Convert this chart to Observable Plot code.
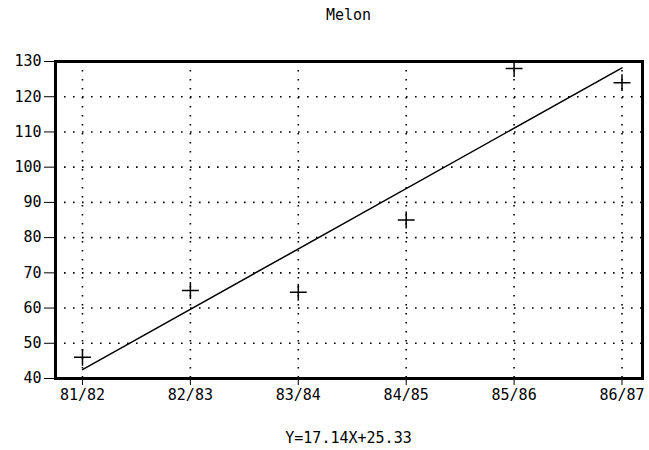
<!DOCTYPE html>
<html>
<head>
<meta charset="utf-8">
<script src="https://cdn.jsdelivr.net/npm/d3@7"></script>
<script src="https://cdn.jsdelivr.net/npm/@observablehq/plot@0.6"></script>
<style>
  html, body { margin: 0; padding: 0; background: #fff; }
  body { width: 649px; height: 450px; overflow: hidden; font-family: "DejaVu Sans Mono", monospace; color: #000; }
  .title { width: 649px; height: 40px; box-sizing: border-box; padding-top: 6px; padding-left: 48px; text-align: center; font-size: 15px; line-height: 18px; }
  .caption { width: 649px; box-sizing: border-box; padding-top: 21px; padding-left: 48px; text-align: center; font-size: 15px; line-height: 18px; }
  #chart svg { display: block; }
</style>
</head>
<body>
<div class="title">Melon</div>
<div id="chart"></div>
<div class="caption">Y=17.14X+25.33</div>
<script>
// Data
const seasons = ["81/82", "82/83", "83/84", "84/85", "85/86", "86/87"];
const seasonIndex = [1, 2, 3, 4, 5, 6];
const melon = [46, 65, 64.5, 85, 128, 124];
// Regression line end values (at 81/82 and 86/87)
const fitX = [1, 6];
const fitY = [42.5, 128.2];
const yTicks = [40, 50, 60, 70, 80, 90, 100, 110, 120, 130];

const points = seasonIndex.map((x, i) => ({x, y: melon[i]}));
const fit = fitX.map((x, i) => ({x, y: fitY[i]}));

const chart = Plot.plot({
  width: 649,
  height: 368,
  marginLeft: 55,
  marginRight: 7,
  marginTop: 21,
  marginBottom: 30,
  style: {fontFamily: "DejaVu Sans Mono", fontSize: "15px", color: "#000", background: "#fff"},
  x: {
    type: "linear",
    domain: [0.75, 6.19],
    ticks: seasonIndex,
    tickFormat: d => seasons[d - 1],
    tickSize: 7,
    tickPadding: 4,
    label: null
  },
  y: {
    domain: [40, 130],
    ticks: yTicks,
    tickSize: 11,
    tickPadding: 3,
    label: null
  },
  marks: [
    Plot.ruleY(yTicks.slice(1, -1), {stroke: "#000", strokeWidth: 1.6, strokeDasharray: "1.6,7.4"}),
    Plot.ruleX(seasonIndex, {stroke: "#000", strokeWidth: 1.6, strokeDasharray: "1.6,7.4"}),
    Plot.line(fit, {x: "x", y: "y", stroke: "#000", strokeWidth: 1.5}),
    Plot.dot(points, {x: "x", y: "y", symbol: "plus", r: 5.5, stroke: "#000", strokeWidth: 1.5}),
    Plot.frame({stroke: "#000", strokeWidth: 3})
  ]
});
document.getElementById("chart").appendChild(chart);
</script>
</body>
</html>
